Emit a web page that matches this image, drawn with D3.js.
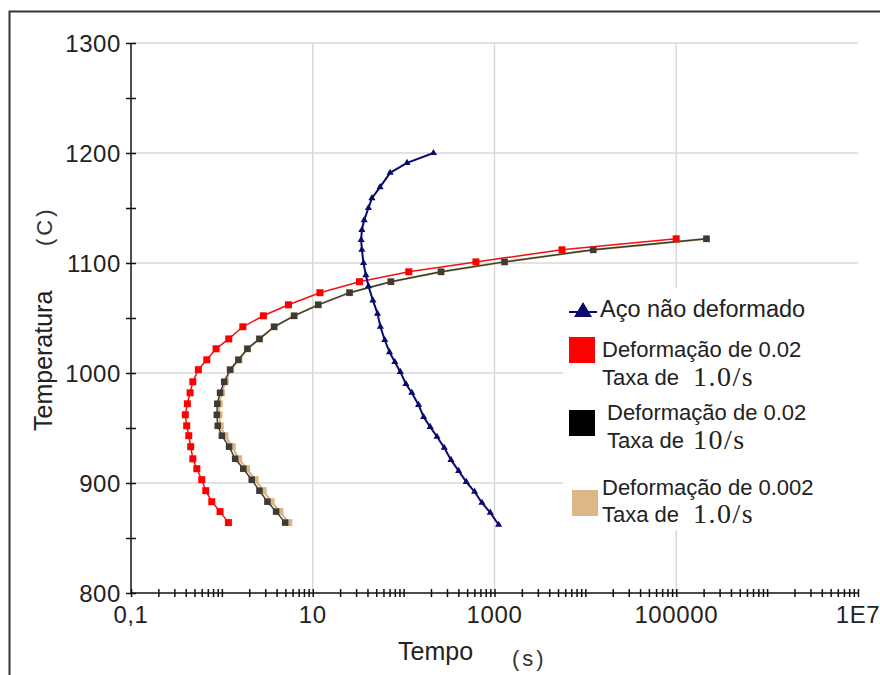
<!DOCTYPE html>
<html>
<head>
<meta charset="utf-8">
<script src="https://cdn.jsdelivr.net/npm/d3@7"></script>
<style>
  html, body { margin: 0; padding: 0; background: #fff; }
  svg { display: block; }
</style>
</head>
<body>
<svg id="chart" width="880" height="675"></svg>
<script>
// ---------- DATA ----------
const xTickValues = [0.1, 10, 1000, 100000, 1e7];
const xTickLabels = ["0,1", "10", "1000", "100000", "1E7"];
const yTickValues = [800, 900, 1000, 1100, 1200, 1300];
const yMinorTicks = [850, 950, 1050, 1150, 1250];

// Temperatures (C) for the deformed series
const defTemps = [864, 874, 883, 893, 903, 913, 922, 933, 943, 952, 962, 972, 982, 992,
                  1003, 1012, 1022, 1031, 1042, 1052, 1062, 1073, 1083, 1092, 1101, 1112, 1122];
// Deformação de 0.02, Taxa 1.0/s (red)
const redTimes = [1.18, 0.955, 0.774, 0.665, 0.601, 0.53, 0.479, 0.454, 0.432, 0.41, 0.396, 0.417,
                  0.447, 0.479, 0.551, 0.682, 0.863, 1.19, 1.70, 2.86, 5.4, 12.0, 32.7, 114, 625, 5530, 99800];
// Deformação de 0.02, Taxa 10/s (black)
const blackTimes = [4.97, 3.95, 3.17, 2.59, 2.13, 1.72, 1.40, 1.20, 1.0, 0.90, 0.88, 0.89,
                    0.955, 1.06, 1.23, 1.52, 1.91, 2.59, 3.76, 6.24, 11.5, 25.4, 72.4, 258, 1290, 12200, 215000];
// Deformação de 0.002, Taxa 1.0/s (tan)
const tanTimes = [5.45, 4.35, 3.49, 2.85, 2.32, 1.87, 1.53, 1.30, 1.08, 0.96, 0.93, 0.935,
                  0.99, 1.09, 1.25, 1.54, 1.91, 2.59, 3.76, 6.24, 11.5, 25.4, 72.4, 258, 1290, 12200, 215000];
// Aço não deformado (blue)
const blueTemps = [1200, 1191, 1182, 1169, 1159, 1150, 1139, 1130, 1121, 1112, 1100, 1089, 1079, 1066,
                   1054, 1042, 1030, 1019, 1010, 1001, 990, 982, 971, 960, 951, 942, 932, 921, 911, 901,
                   892, 882, 873, 862];
const blueTimes = [213, 109, 71, 55, 44.8, 41, 36.8, 34.7, 34.1, 34.7, 36.2, 38.4, 41, 45.9,
                   51.6, 55.5, 62, 70, 80, 92, 106, 123, 146, 166, 196, 233, 280, 332, 403, 489,
                   604, 728, 899, 1110];

const legendMain = "Aço não deformado";
const legendDef = ["Deformação de 0.02", "Deformação de 0.02", "Deformação de 0.002"];
const legendRate = ["1.0/s", "10/s", "1.0/s"];

// ---------- CHART ----------
const svg = d3.select("#chart");
const x = d3.scaleLog().domain([0.1, 1e7]).range([131, 858]);
const y = d3.scaleLinear().domain([800, 1300]).range([593, 43]);

const SANS = "'Liberation Sans', Arial, sans-serif";
const SERIF = "'Liberation Serif', 'Times New Roman', serif";

// outer frame
svg.append("rect").attr("x", 9.5).attr("y", 11.5).attr("width", 900).attr("height", 700)
  .attr("fill", "#fff").attr("stroke", "#333").attr("stroke-width", 2);

// grid
const grid = svg.append("g").attr("stroke", "#d9d9d9").attr("stroke-width", 1.5);
yTickValues.slice(1).forEach(v => {
  grid.append("line").attr("x1", x(0.1)).attr("x2", x(1e7)).attr("y1", y(v)).attr("y2", y(v));
});
xTickValues.slice(1, 4).forEach(v => {
  grid.append("line").attr("x1", x(v)).attr("x2", x(v)).attr("y1", y(1300)).attr("y2", y(800));
});

// legend background (hides grid)
svg.append("rect").attr("x", 563).attr("y", 288).attr("width", 296).attr("height", 242).attr("fill", "#fff");

// axes
const xTicks = [];
for (let e = -1; e < 7; e++) for (let k = 1; k <= 9; k++) xTicks.push(k * Math.pow(10, e));
xTicks.push(1e7);

const xAxis = svg.append("g").attr("transform", `translate(0,${y(800)})`)
  .call(d3.axisBottom(x).tickValues(xTicks).tickSize(4).tickFormat(""));
xAxis.select(".domain").attr("stroke", "#111").attr("stroke-width", 1.5).attr("d", `M${x(0.1)},0H${x(1e7)}`);
xAxis.selectAll(".tick line").attr("y1", -4).attr("y2", 4).attr("stroke", "#111").attr("stroke-width", 1.5);

const yAxis = svg.append("g").attr("transform", `translate(${x(0.1)},0)`)
  .call(d3.axisLeft(y).tickValues(yTickValues.concat(yMinorTicks)).tickSize(5).tickFormat(""));
yAxis.select(".domain").attr("stroke", "#111").attr("stroke-width", 1.5).attr("d", `M0,${y(800)}V${y(1300)}`);
yAxis.selectAll(".tick line").attr("x1", -5).attr("x2", 5).attr("stroke", "#111").attr("stroke-width", 1.5);

// tick labels
svg.append("g").selectAll("text").data(xTickValues).join("text")
  .attr("x", d => x(d)).attr("y", 623).attr("text-anchor", "middle")
  .attr("font-family", SANS).attr("font-size", 24).attr("letter-spacing", 0.6).attr("fill", "#222")
  .text((d, i) => xTickLabels[i]);
svg.append("g").selectAll("text").data(yTickValues).join("text")
  .attr("x", 121).attr("y", d => y(d) + 8.5).attr("text-anchor", "end")
  .attr("font-family", SANS).attr("font-size", 24).attr("letter-spacing", 0.6).attr("fill", "#222")
  .text(d => d);

// axis titles
svg.append("text").attr("x", 398).attr("y", 660).attr("font-family", SANS).attr("font-size", 25)
  .attr("fill", "#222").text("Tempo");
svg.append("text").attr("x", 512).attr("y", 666).attr("font-family", SANS).attr("font-size", 22)
  .attr("letter-spacing", 3).attr("fill", "#333").text("(s)");
svg.append("text").attr("transform", "translate(52,431) rotate(-90)").attr("font-family", SANS)
  .attr("font-size", 25).attr("fill", "#222").text("Temperatura");
svg.append("text").attr("transform", "translate(52,246) rotate(-90)").attr("font-family", SANS)
  .attr("font-size", 22).attr("letter-spacing", 3).attr("fill", "#333").text("(C)");

// series
const lineGen = d3.line().x(d => x(d[0])).y(d => y(d[1]));
const tanData = tanTimes.map((t, i) => [t, defTemps[i]]);
const blackData = blackTimes.map((t, i) => [t, defTemps[i]]);
const redData = redTimes.map((t, i) => [t, defTemps[i]]);
const blueData = blueTimes.map((t, i) => [t, blueTemps[i]]);

function squares(data, color, size) {
  svg.append("g").selectAll("rect").data(data).join("rect")
    .attr("x", d => x(d[0]) - size / 2).attr("y", d => y(d[1]) - size / 2)
    .attr("width", size).attr("height", size).attr("fill", color);
}

svg.append("path").datum(tanData).attr("d", lineGen).attr("fill", "none")
  .attr("stroke", "#d8b584").attr("stroke-width", 2.2);
squares(tanData, "#d8b584", 7);

svg.append("path").datum(blackData).attr("d", lineGen).attr("fill", "none")
  .attr("stroke", "#3a3a34").attr("stroke-width", 1.4);
squares(blackData, "#3d3b35", 6.5);

svg.append("path").datum(redData).attr("d", lineGen).attr("fill", "none")
  .attr("stroke", "#ee1111").attr("stroke-width", 1.5);
squares(redData, "#ff0000", 7);

svg.append("path").datum(blueData).attr("d", lineGen).attr("fill", "none")
  .attr("stroke", "#0b0b6e").attr("stroke-width", 2);
svg.append("g").selectAll("path").data(blueData).join("path")
  .attr("d", d3.symbol().type(d3.symbolTriangle).size(22))
  .attr("transform", d => `translate(${x(d[0])},${y(d[1])})`).attr("fill", "#0b0b6e");

// legend
const lg = svg.append("g");
lg.append("line").attr("x1", 569).attr("x2", 597).attr("y1", 312).attr("y2", 312)
  .attr("stroke", "#0b0b6e").attr("stroke-width", 2);
lg.append("path").attr("d", "M583,302L592,317L574,317Z").attr("fill", "#0b0b6e");
lg.append("text").attr("x", 600).attr("y", 317).attr("font-family", SANS).attr("font-size", 23.5)
  .attr("fill", "#222").text(legendMain);

const legColors = ["#ff0000", "#000000", "#ddb887"];
const legSq = [[569, 337], [569, 410], [572, 490]];
const legText1 = [[602, 357], [607, 420], [602, 495]];
const legText2 = [[602, 385], [607, 448], [602, 522]];
legendDef.forEach((t, i) => {
  lg.append("rect").attr("x", legSq[i][0]).attr("y", legSq[i][1]).attr("width", 26).attr("height", 26)
    .attr("fill", legColors[i]);
  lg.append("text").attr("x", legText1[i][0]).attr("y", legText1[i][1]).attr("font-family", SANS)
    .attr("font-size", 22).attr("fill", "#222").text(t);
  lg.append("text").attr("x", legText2[i][0]).attr("y", legText2[i][1]).attr("font-family", SANS)
    .attr("font-size", 22).attr("fill", "#222").text("Taxa de");
  lg.append("text").attr("x", 693).attr("y", legText2[i][1] + 1).attr("font-family", SERIF)
    .attr("font-size", 28).attr("letter-spacing", 1.5).attr("fill", "#222").text(legendRate[i]);
});
</script>
</body>
</html>
